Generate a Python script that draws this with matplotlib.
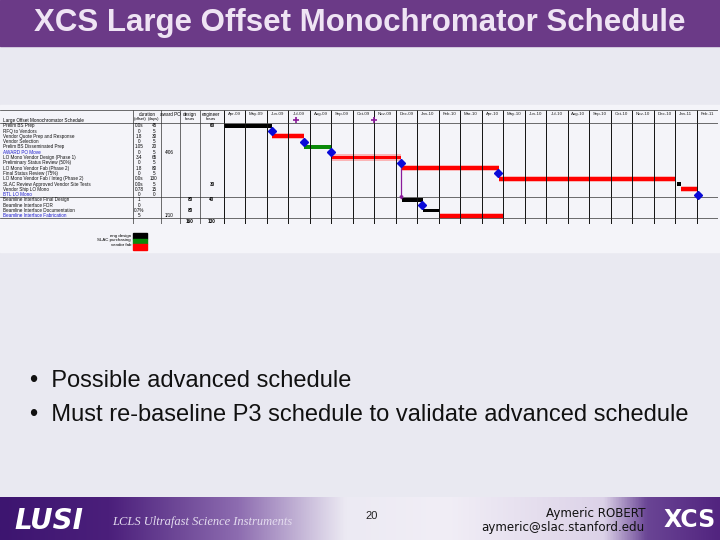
import numpy as np
import matplotlib.pyplot as plt
from matplotlib.colors import LinearSegmentedColormap
from matplotlib.patches import Rectangle

plt.rcParams['font.family'] = ['Liberation Sans', 'DejaVu Sans']

# ---- schedule data ----
months = ['Apr-09', 'May-09', 'Jun-09', 'Jul-09', 'Aug-09', 'Sep-09', 'Oct-09',
          'Nov-09', 'Dec-09', 'Jan-10', 'Feb-10', 'Mar-10', 'Apr-10', 'May-10',
          'Jun-10', 'Jul-10', 'Aug-10', 'Sep-10', 'Oct-10', 'Nov-10', 'Dec-10',
          'Jan-11', 'Feb-11']
tasks = ['Prelim BS Prep', 'RFQ to Vendors', 'Vendor Quote Prep and Response',
         'Vendor Selection', 'Prelim BS Disseminated Prep', 'AWARD PO Move',
         'LO Mono Vendor Design (Phase 1)', 'Preliminary Status Review (50%)',
         'LO Mono Vendor Fab (Phase 2)', 'Final Status Review (75%)',
         'LO Mono Vendor Fab / Integ (Phase 2)', 'SLAC Review Approved Vendor Site Tests',
         'Vendor Ship LO Mono', 'BTL LO Mono', 'Beamline Interface Final Design',
         'Beamline Interface FDR', 'Beamline Interface Documentation',
         'Beamline Interface Fabrication']
blue_tasks = [5, 13, 17]
dur_offset = ['0.0s', '0', '1.8', '0', '1.05', '0', '3.4', '0', '1.8', '0',
              '0.0s', '0.0s', '0.78', '0', '1', '0', '0.7%', '5']
dur_days = ['45', '5', '30', '5', '20', '5', '65', '5', '80', '5',
            '130', '5', '15', '0', '', '', '', '']
award_po = {5: '4/06', 17: '1/10'}
design_hrs = {14: 80, 16: 80}
eng_hrs = {0: 60, 11: 30, 14: 40}

# bars: row, start month, end month (months counted from start of Apr-09), kind
bar_rows = [0, 2, 4, 6, 8, 10, 11, 12, 14, 16, 17]
bar_start = [0.0, 2.23, 3.72, 5.02, 8.28, 12.8, 21.07, 21.3, 8.28, 9.26, 10.0]
bar_end = [2.23, 3.72, 5.02, 8.23, 12.8, 21.0, 21.3, 22.05, 9.26, 10.0, 13.02]
bar_kind = ['eng', 'vend', 'purch', 'vend', 'vend', 'vend', 'eng', 'vend', 'eng', 'eng', 'vend']
ms_rows = [1, 3, 5, 7, 9, 13, 15]
ms_month = [2.23, 3.72, 5.0, 8.23, 12.75, 22.05, 9.2]
hdr_marks = [3.35, 6.98]
link_month, link_from, link_to = 8.23, 7, 14

legend_labels = ['eng design', 'SLAC purchasing', 'vendor fab']
kind_colors = {'eng': '#000000', 'purch': '#0a8a0a', 'vend': '#ff0000'}

# ---- layout (pixels on a 720x540 slide) ----
W, H = 720, 540
ROW0, ROWH = 125.7, 5.3          # centre of first task row, row pitch
TOP, BOT = 110, 224              # chart box
GX0, GX1 = 224, 718              # gantt column range
ylim = ((BOT - ROW0) / ROWH, (TOP - ROW0) / ROWH)

fig = plt.figure(figsize=(W / 100, H / 100), dpi=100)

# slide background
bg = fig.add_axes([0, 0, 1, 1])
bg.set_xlim(0, W)
bg.set_ylim(H, 0)
bg.axis('off')
bg.add_patch(Rectangle((0, 0), W, H, color='#e9e9f1', zorder=0))
bg.add_patch(Rectangle((0, 105), 720, 147, color='#f4f4f9', zorder=0.5))
bg.add_patch(Rectangle((0, 0), W, 46, color='#6b3a87', zorder=1))
bg.text(360, 23, 'XCS Large Offset Monochromator Schedule', color='#efe4f4',
        fontsize=22.5, fontweight='bold', ha='center', va='center', zorder=2)

foot = LinearSegmentedColormap.from_list('foot', [
    (0.0, '#3d1570'), (0.15, '#4b1f7b'), (0.33, '#8d6cb0'), (0.48, '#eceaf3'),
    (0.62, '#f1eef6'), (0.84, '#dcd2e8'), (0.9, '#6a4595'), (1.0, '#52247f')])
bg.imshow(np.linspace(0, 1, 256)[None, :], cmap=foot, aspect='auto',
          extent=[0, W, H, 497], zorder=1)
bg.text(14, 521, 'LUSI', color='white', fontsize=20, fontstyle='italic', fontweight='bold',
        family='Liberation Sans Narrow', va='center', zorder=2)
bg.text(112, 522, 'LCLS Ultrafast Science Instruments', color='#e4dcef',
        fontsize=9, fontstyle='italic', family='Liberation Serif', va='center', zorder=2)
bg.text(372, 516, '20', fontsize=8, ha='center', va='center', color='#222222', zorder=2)
bg.text(645, 513, 'Aymeric ROBERT', fontsize=8.6, ha='right', va='center',
        family='Liberation Sans Narrow', color='#111111', zorder=2)
bg.text(645, 527, 'aymeric@slac.stanford.edu', fontsize=8.6, ha='right', va='center',
        family='Liberation Sans Narrow', color='#111111', zorder=2)
bg.text(690, 520, 'XCS', fontsize=17, fontweight='bold', ha='center', va='center',
        family='Liberation Sans Narrow', color='white', zorder=2)

bg.text(30, 381, '•  Possible advanced schedule', fontsize=17, va='center', color='#111111')
bg.text(30, 415, '•  Must re-baseline P3 schedule to validate advanced schedule',
        fontsize=17, va='center', color='#111111')

# legend under the table
for i, (lab, k) in enumerate(zip(legend_labels, ['eng', 'purch', 'vend'])):
    bg.add_patch(Rectangle((133, 233 + 5.7 * i), 14, 5.7, color=kind_colors[k], zorder=2))
    bg.text(131, 236 + 4.3 * i, lab, fontsize=3.2, ha='right', va='center', zorder=2)

# table part
tab = fig.add_axes([0, (H - BOT) / H, GX0 / W, (BOT - TOP) / H])
tab.set_xlim(0, GX0)
tab.set_ylim(*ylim)
tab.axis('off')
fs = 3.3
tab.text(3, -1, 'Large Offset Monochromator Schedule', fontsize=fs, va='center')
tab.text(147, -2.2, 'duration', fontsize=fs, ha='center', va='center')
tab.text(140, -1.2, '(offset)', fontsize=fs - 0.3, ha='center', va='center')
tab.text(154, -1.2, '(days)', fontsize=fs - 0.3, ha='center', va='center')
tab.text(170, -2.2, 'award PO', fontsize=fs, ha='center', va='center')
tab.text(190, -2.2, 'design', fontsize=fs, ha='center', va='center')
tab.text(190, -1.2, 'hours', fontsize=fs - 0.3, ha='center', va='center')
tab.text(211, -2.2, 'engineer', fontsize=fs, ha='center', va='center')
tab.text(211, -1.2, 'hours', fontsize=fs - 0.3, ha='center', va='center')
for i, name in enumerate(tasks):
    col = '#1a1acc' if i in blue_tasks else '#111111'
    tab.text(3, i, name, fontsize=fs, va='center', color=col)
    tab.text(139, i, dur_offset[i], fontsize=fs, ha='center', va='center')
    tab.text(154, i, dur_days[i], fontsize=fs, ha='center', va='center')
for r, v in award_po.items():
    tab.text(169, r, v, fontsize=fs, ha='center', va='center')
for r, v in design_hrs.items():
    tab.text(190, r, str(v), fontsize=fs, ha='center', va='center', fontweight='bold')
for r, v in eng_hrs.items():
    tab.text(212, r, str(v), fontsize=fs, ha='center', va='center', fontweight='bold')
tab.text(190, 18, str(sum(design_hrs.values())), fontsize=fs, ha='center', va='center',
         fontweight='bold')
tab.text(212, 18, str(sum(eng_hrs.values())), fontsize=fs, ha='center', va='center',
         fontweight='bold')
tab.vlines([133, 161, 180, 200], ylim[1], ylim[0], color='#333333', lw=0.5)
for yy in [ylim[1], -0.5, 13.5, 17.5, ylim[0]]:
    tab.axhline(yy, color='#333333', lw=0.5)

# gantt part
gan = fig.add_axes([GX0 / W, (H - BOT) / H, (GX1 - GX0) / W, (BOT - TOP) / H])
gan.set_xlim(0, len(months))
gan.set_ylim(*ylim)
gan.axis('off')
gan.vlines(np.arange(len(months) + 1), ylim[1], ylim[0], color='#111111', lw=0.7)
for yy in [ylim[1], -0.5, 13.5, 17.5, ylim[0]]:
    gan.axhline(yy, color='#333333', lw=0.5)
for j, m in enumerate(months):
    gan.text(j + 0.5, -2.2, m, fontsize=3.2, ha='center', va='center', color='#222222')

for r, s, e, k in zip(bar_rows, bar_start, bar_end, bar_kind):
    if k == 'vend':
        gan.barh(r, e - s, left=s, height=1.15, color='#ff8c8c', alpha=0.6, lw=0)
    gan.barh(r, e - s, left=s, height=0.75, color=kind_colors[k], lw=0)

gan.plot([link_month, link_month], [link_from, link_to - 0.5], color='#8a1a9a', lw=0.9)
gan.plot(link_month, link_to - 0.5, marker='v', ms=2, color='#8a1a9a')
gan.plot(ms_month, ms_rows, ls='none', marker='D', ms=4.5, color='#0a0ad8', mec='#0a0ad8')
gan.plot(hdr_marks, [-1] * len(hdr_marks), ls='none', marker='+', ms=4, mew=1.2,
         color='#8a1a9a')

fig.savefig('out.png', dpi=100)
